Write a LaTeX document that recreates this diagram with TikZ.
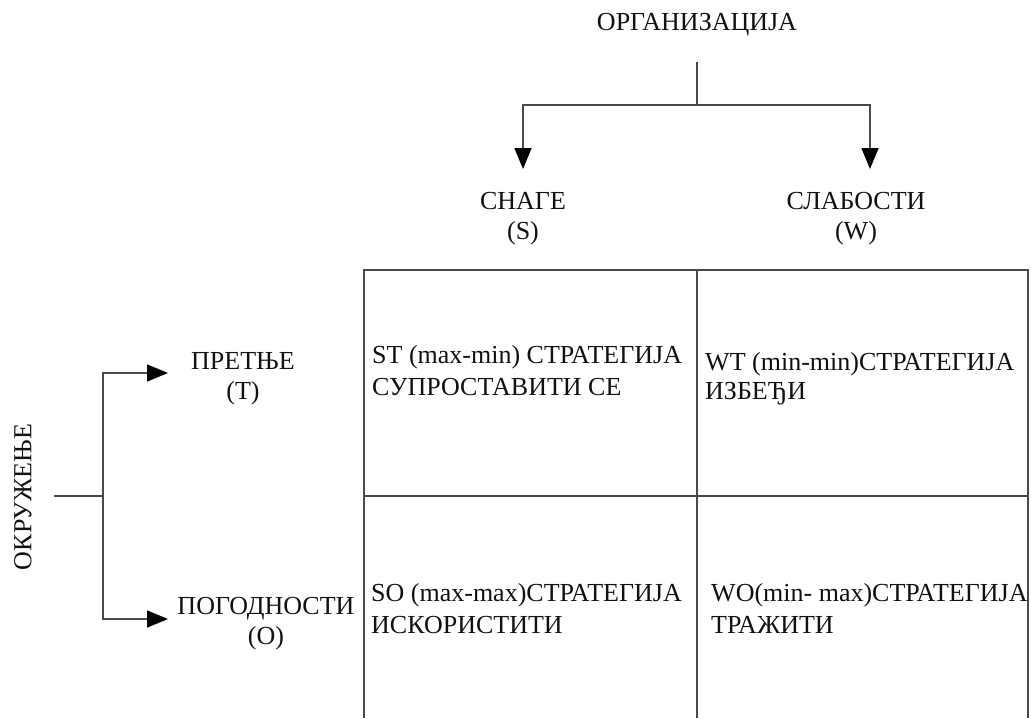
\documentclass[tikz,border=0pt]{standalone}
\usepackage{fontspec}
\setmainfont{Liberation Serif}
\usetikzlibrary{arrows.meta}
\definecolor{linegray}{HTML}{4A4A4A}
\definecolor{txt}{HTML}{111111}
\begin{document}
\begin{tikzpicture}[x=1pt,y=-1pt,
  lbl/.style={inner sep=0pt,align=center,text=txt,font=\fontsize{26}{30}\selectfont},
  celltxt/.style={inner sep=0pt,align=left,anchor=north west,text=txt,font=\fontsize{26}{32}\selectfont},
  conn/.style={draw=linegray,line width=1.5pt},
  arr/.style={conn,-{Triangle[length=21pt,width=17pt,color=black,fill=black]}},
  gridline/.style={draw=linegray,line width=1.8pt}]
\useasboundingbox (0,0) rectangle (1031,718);
% grid
\draw[gridline] (364,718) -- (364,270) -- (1028,270) -- (1028,718);
\draw[gridline] (697,270) -- (697,718);
\draw[gridline] (364,496) -- (1028,496);
% labels
\node[lbl] (org) at (697,25) {ОРГАНИЗАЦИЈА};
\node[lbl] (S) at (523,219) {СНАГЕ\\(S)};
\node[lbl] (W) at (856,219) {СЛАБОСТИ\\(W)};
\node[lbl] (T) at (243,379) {ПРЕТЊЕ\\(T)};
\node[lbl] (O) at (266,624) {ПОГОДНОСТИ\\(O)};
\node[lbl,rotate=90] (env) at (23,497) {ОКРУЖЕЊЕ};
% cells
\node[celltxt] (ST) at (372,345) {ST (max-min) СТРАТЕГИЈА\\СУПРОСТАВИТИ СЕ};
\node[celltxt,font=\fontsize{26}{29}\selectfont] (WT) at (705,352) {WT (min-min)СТРАТЕГИЈА\\ИЗБЕЂИ};
\node[celltxt] (SO) at (371,583) {SO (max-max)СТРАТЕГИЈА\\ИСКОРИСТИТИ};
\node[celltxt] (WO) at (711,583) {WO(min- max)СТРАТЕГИЈА\\ТРАЖИТИ};
% connectors top
\coordinate (ostart) at (697,62);
\coordinate (oj) at (697,105);
\coordinate (sa) at (523,169);
\coordinate (wa) at (870,169);
\draw[conn] (ostart) -- (oj);
\draw[arr] (oj) -| (sa);
\draw[arr] (oj) -| (wa);
% connectors left
\coordinate (estart) at (54,496);
\coordinate (ej) at (103,496);
\coordinate (ta) at (168,373);
\coordinate (oa) at (168,619);
\draw[conn] (estart) -- (ej);
\draw[arr] (ej) |- (ta);
\draw[arr] (ej) |- (oa);
\end{tikzpicture}
\end{document}
